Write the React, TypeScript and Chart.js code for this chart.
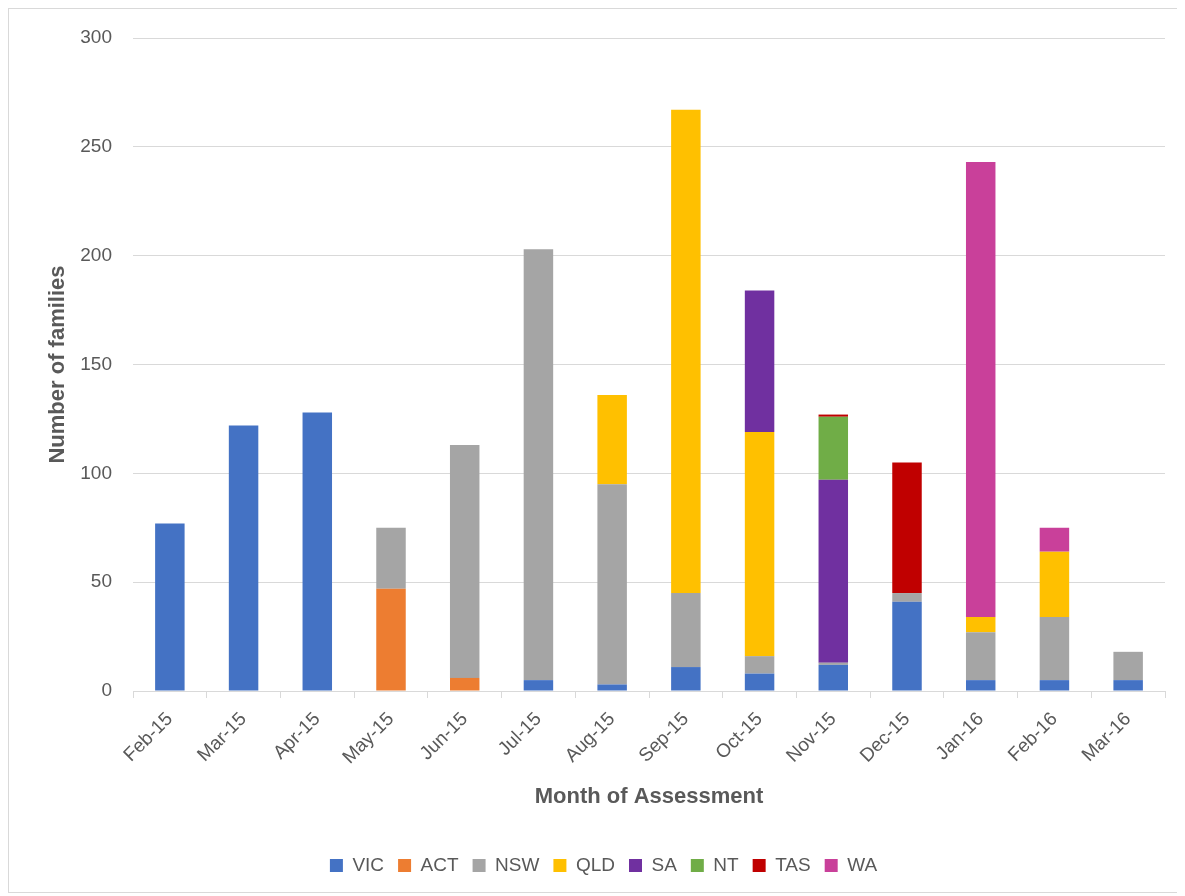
import React, { useEffect, useRef } from "react";
import { Chart, registerables } from "chart.js";

Chart.register(...registerables);

const categories = [
  "Feb-15", "Mar-15", "Apr-15", "May-15", "Jun-15", "Jul-15", "Aug-15",
  "Sep-15", "Oct-15", "Nov-15", "Dec-15", "Jan-16", "Feb-16", "Mar-16",
];

const VIC = [77, 122, 128, 0, 0, 5, 3, 11, 8, 12, 41, 5, 5, 5];
const ACT = [0, 0, 0, 47, 6, 0, 0, 0, 0, 0, 0, 0, 0, 0];
const NSW = [0, 0, 0, 28, 107, 198, 92, 34, 8, 1, 4, 22, 29, 13];
const QLD = [0, 0, 0, 0, 0, 0, 41, 222, 103, 0, 0, 7, 30, 0];
const SA = [0, 0, 0, 0, 0, 0, 0, 0, 65, 84, 0, 0, 0, 0];
const NT = [0, 0, 0, 0, 0, 0, 0, 0, 0, 29, 0, 0, 0, 0];
const TAS = [0, 0, 0, 0, 0, 0, 0, 0, 0, 1, 60, 0, 0, 0];
const WA = [0, 0, 0, 0, 0, 0, 0, 0, 0, 0, 0, 209, 11, 0];

const seriesNames = ["VIC", "ACT", "NSW", "QLD", "SA", "NT", "TAS", "WA"];
const seriesValues = [VIC, ACT, NSW, QLD, SA, NT, TAS, WA];
const seriesColors = [
  "#4472C4", "#ED7D31", "#A5A5A5", "#FFC000", "#7030A0", "#70AD47", "#C00000", "#C9409A",
];

const yTicks = [0, 50, 100, 150, 200, 250, 300];

const TEXT = "#595959";
const GRID = "#D9D9D9";
const BASE_FONT = "'Liberation Sans', Arial, sans-serif";

export default function App() {
  const ref = useRef<HTMLCanvasElement | null>(null);

  useEffect(() => {
    if (!ref.current) return;
    const chart = new Chart(ref.current, {
      type: "bar",
      data: {
        labels: categories,
        datasets: seriesNames.map((name, i) => ({
          label: name,
          data: seriesValues[i],
          backgroundColor: seriesColors[i],
          borderWidth: 0,
          categoryPercentage: 0.4,
          barPercentage: 1,
        })),
      },
      options: {
        animation: false,
        responsive: false,
        maintainAspectRatio: false,
        layout: { padding: { left: 33, right: 15, top: 29, bottom: 7 } },
        plugins: {
          tooltip: { enabled: false },
          legend: {
            position: "bottom",
            labels: {
              color: TEXT,
              font: { family: BASE_FONT, size: 19 },
              boxWidth: 13,
              boxHeight: 13,
              padding: 14,
            },
          },
        },
        scales: {
          x: {
            stacked: true,
            afterFit: (scale: any) => {
              scale.height = 151;
            },
            grid: {
              display: true,
              drawOnChartArea: false,
              drawTicks: true,
              tickLength: 7,
              color: GRID,
              offset: true,
            },
            border: { display: true, color: GRID, width: 1 },
            ticks: {
              color: TEXT,
              font: { family: BASE_FONT, size: 19 },
              minRotation: 45,
              maxRotation: 45,
              padding: 10,
              autoSkip: false,
            },
            title: {
              display: true,
              text: "Month of Assessment",
              color: TEXT,
              font: { family: BASE_FONT, size: 22, weight: "bold" },
              padding: { top: 0, bottom: 32 },
            },
          },
          y: {
            stacked: true,
            min: 0,
            max: 300,
            afterFit: (scale: any) => {
              scale.width = 91;
              scale.paddingTop = 10;
              scale.paddingBottom = 10;
            },
            afterBuildTicks: (scale: any) => {
              scale.ticks = yTicks.map((v) => ({ value: v }));
            },
            grid: { color: GRID, lineWidth: 1, drawTicks: false },
            border: { display: false },
            ticks: {
              color: TEXT,
              font: { family: BASE_FONT, size: 19 },
              padding: 21,
            },
            title: {
              display: true,
              text: "Number of families",
              color: TEXT,
              font: { family: BASE_FONT, size: 22, weight: "bold" },
              padding: { top: 3, bottom: 0 },
            },
          },
        },
      },
    });
    return () => chart.destroy();
  }, []);

  return (
    <div
      style={{
        width: 1173,
        height: 885,
        boxSizing: "border-box",
        border: "1px solid #D9D9D9",
        background: "#fff",
      }}
    >
      <canvas ref={ref} width={1171} height={883} style={{ display: "block" }} />
    </div>
  );
}
